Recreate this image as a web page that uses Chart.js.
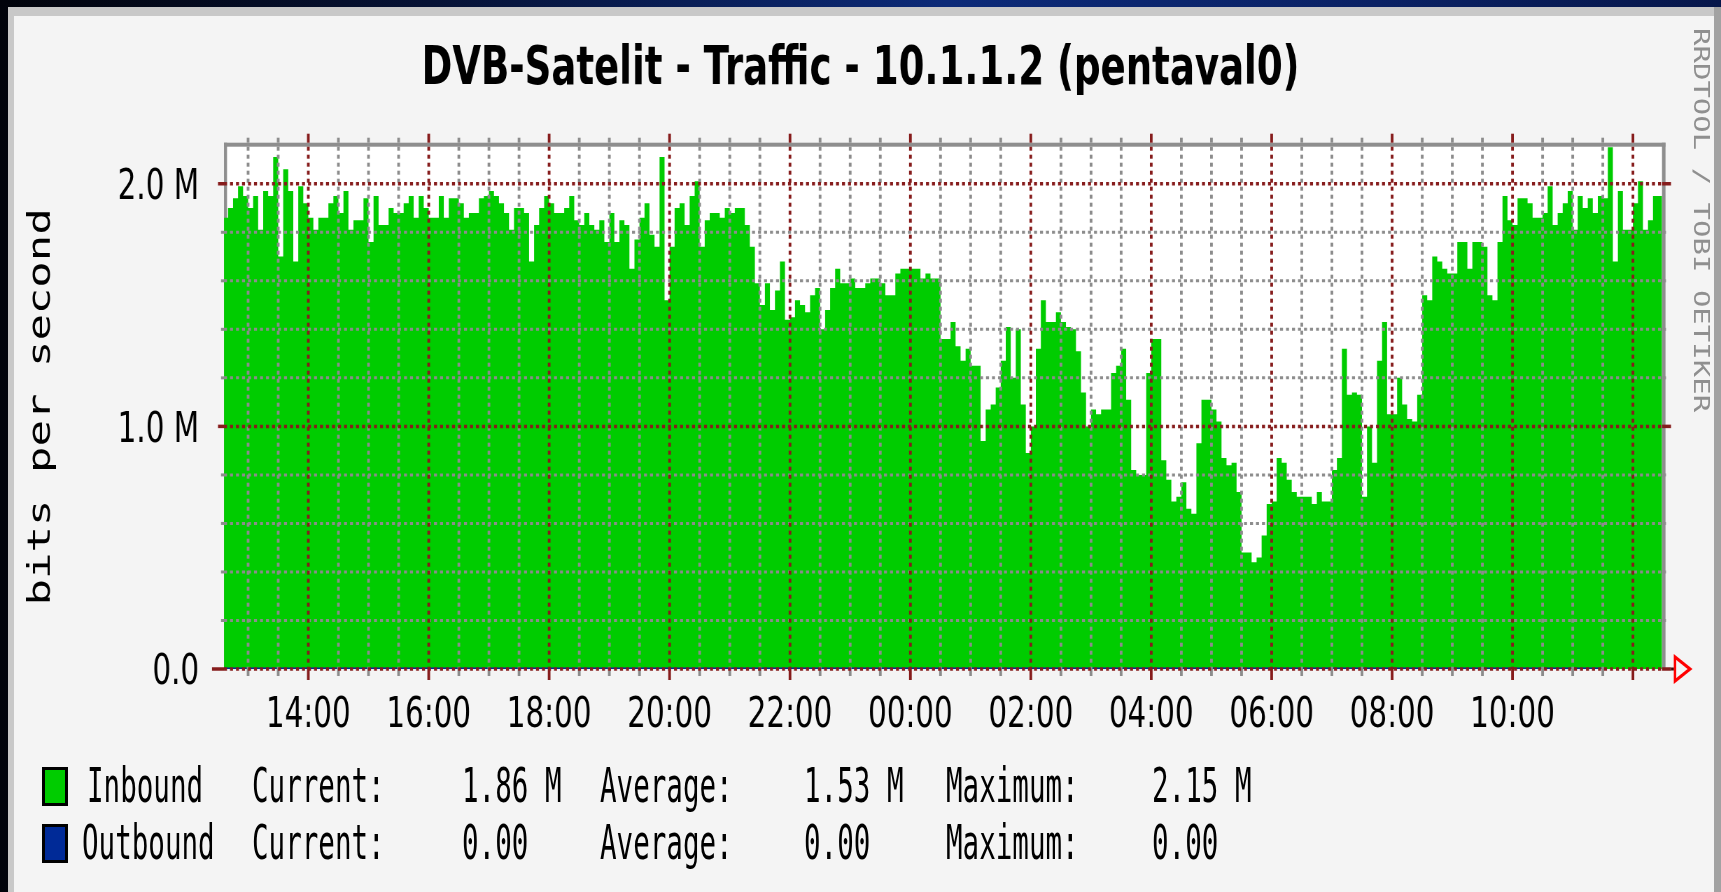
<!DOCTYPE html>
<html>
<head>
<meta charset="utf-8">
<title>DVB-Satelit - Traffic - 10.1.1.2 (pentaval0)</title>
<script src="https://cdn.jsdelivr.net/npm/chart.js@4.4.1/dist/chart.umd.min.js"></script>
<style>
  html, body { margin:0; padding:0; }
  body { width:1721px; height:892px; overflow:hidden; position:relative;
         background: linear-gradient(90deg, #01030b 0%, #061235 25%, #0c2a78 55%, #0a2164 80%, #06164a 100%); }
  #frame { position:absolute; left:8px; top:7px; width:1706px; height:885px; background:#c8c8c8; }
  #rim { position:absolute; left:1714px; top:7px; width:7px; height:885px; background:#a2a2a2; }
  #sheet { position:absolute; left:14px; top:16px; width:1700px; height:876px; background:#f4f4f4; }
  #chart { position:absolute; left:0; top:0; }
  .lg { position:absolute; font-family:"DejaVu Sans Mono", monospace; font-size:48px; line-height:48px; color:#000;
        white-space:pre; transform-origin:0 0; transform:scaleX(0.574); }
  .sw { position:absolute; left:42px; width:20px; height:33px; border:3px solid #000; }
  #credit { position:absolute; left:1690px; top:28px; font-family:"DejaVu Sans Mono", monospace; font-size:29px;
            line-height:29px; color:#8f8f8f; writing-mode:vertical-rl; white-space:pre;
            transform-origin:0 0; transform:scaleX(0.72); }
</style>
</head>
<body>
<div id="frame"></div><div id="rim"></div><div id="sheet"></div>
<canvas id="chart" width="2459" height="892" style="width:1721px;height:892px"></canvas>
<div id="credit">RRDTOOL / TOBI OETIKER</div>
<div id="legend"></div>
<script>
// ---------------- data ----------------
const titleText = 'DVB-Satelit - Traffic - 10.1.1.2 (pentaval0)';
const yAxisTitle = 'bits per second';
const startHour = 12 + 35 / 60;     // first 5-minute sample, 12:35
const stepHours = 5 / 60;           // 5-minute samples

// Inbound, Mbit/s, one value per 5 minutes (12:35 ... 12:25 next day)
const inbound = [
  1.86,1.90,1.94,1.99,1.95,1.90,1.95,1.81,1.97,1.95,2.11,1.70,
  2.06,1.97,1.68,1.99,1.92,1.86,1.81,1.86,1.86,1.92,1.95,1.88,
  1.97,1.81,1.85,1.85,1.94,1.76,1.95,1.83,1.83,1.90,1.88,1.88,
  1.92,1.95,1.86,1.95,1.90,1.86,1.86,1.95,1.86,1.94,1.94,1.92,
  1.86,1.88,1.88,1.94,1.95,1.97,1.95,1.92,1.88,1.81,1.90,1.90,
  1.88,1.68,1.83,1.90,1.95,1.92,1.88,1.88,1.90,1.95,1.85,1.83,
  1.88,1.83,1.81,1.85,1.76,1.88,1.76,1.85,1.83,1.65,1.77,1.86,
  1.92,1.79,1.74,2.11,1.52,1.74,1.90,1.92,1.83,1.95,2.01,1.74,
  1.85,1.88,1.88,1.86,1.90,1.88,1.90,1.90,1.83,1.74,1.59,1.50,
  1.59,1.48,1.56,1.68,1.44,1.45,1.52,1.50,1.47,1.54,1.57,1.40,
  1.48,1.57,1.65,1.59,1.59,1.61,1.57,1.57,1.59,1.61,1.61,1.59,
  1.54,1.54,1.63,1.65,1.65,1.65,1.65,1.61,1.63,1.61,1.61,1.36,
  1.36,1.43,1.33,1.27,1.32,1.25,1.25,0.94,1.07,1.09,1.16,1.27,
  1.41,1.20,1.40,1.09,0.89,1.00,1.32,1.52,1.43,1.43,1.47,1.43,
  1.41,1.40,1.31,1.14,1.00,1.07,1.05,1.07,1.07,1.22,1.25,1.32,
  1.11,0.82,0.80,0.80,1.22,1.36,1.36,0.86,0.78,0.69,0.71,0.77,
  0.66,0.64,0.93,1.11,1.11,1.07,1.02,0.87,0.84,0.85,0.73,0.48,
  0.48,0.44,0.46,0.55,0.68,0.69,0.87,0.85,0.78,0.73,0.71,0.71,
  0.71,0.68,0.73,0.69,0.69,0.82,0.87,1.32,1.13,1.14,1.13,0.71,
  1.00,0.85,1.27,1.43,1.05,1.05,1.20,1.09,1.03,1.02,1.13,1.54,
  1.52,1.70,1.68,1.65,1.63,1.63,1.76,1.76,1.65,1.76,1.76,1.74,
  1.54,1.52,1.76,1.95,1.85,1.83,1.94,1.94,1.92,1.86,1.86,1.88,
  1.99,1.83,1.88,1.92,1.97,1.81,1.95,1.90,1.94,1.88,1.95,1.94,
  2.15,1.68,1.97,1.81,1.81,1.92,2.01,1.81,1.85,1.95,1.95
];

// Outbound, Mbit/s (flat zero over the whole day)
const outbound = [
  0,0,0,0,0,0,0,0,0,0,0,0, 0,0,0,0,0,0,0,0,0,0,0,0,
  0,0,0,0,0,0,0,0,0,0,0,0, 0,0,0,0,0,0,0,0,0,0,0,0,
  0,0,0,0,0,0,0,0,0,0,0,0, 0,0,0,0,0,0,0,0,0,0,0,0,
  0,0,0,0,0,0,0,0,0,0,0,0, 0,0,0,0,0,0,0,0,0,0,0,0,
  0,0,0,0,0,0,0,0,0,0,0,0, 0,0,0,0,0,0,0,0,0,0,0,0,
  0,0,0,0,0,0,0,0,0,0,0,0, 0,0,0,0,0,0,0,0,0,0,0,0,
  0,0,0,0,0,0,0,0,0,0,0,0, 0,0,0,0,0,0,0,0,0,0,0,0,
  0,0,0,0,0,0,0,0,0,0,0,0, 0,0,0,0,0,0,0,0,0,0,0,0,
  0,0,0,0,0,0,0,0,0,0,0,0, 0,0,0,0,0,0,0,0,0,0,0,0,
  0,0,0,0,0,0,0,0,0,0,0,0, 0,0,0,0,0,0,0,0,0,0,0,0,
  0,0,0,0,0,0,0,0,0,0,0,0, 0,0,0,0,0,0,0,0,0,0,0,0,
  0,0,0,0,0,0,0,0,0,0,0
];

const xTickHours  = [14, 16, 18, 20, 22, 24, 26, 28, 30, 32, 34];
const xTickLabels = ['14:00','16:00','18:00','20:00','22:00','00:00','02:00','04:00','06:00','08:00','10:00'];
const yTickValues = [0, 1, 2];
const yTickLabels = ['0.0', '1.0 M', '2.0 M'];

const seriesNames  = ['Inbound', 'Outbound'];
const seriesColors = ['#00cc00', '#002a97'];
const currentText  = ['1.86 M', '0.00'];
const averageText  = ['1.53 M', '0.00'];
const maximumText  = ['2.15 M', '0.00'];

// ---------------- legend (HTML text) ----------------
(function buildLegend() {
  const host = document.getElementById('legend');
  const rowTop = [767, 824];
  const nameLeft = [87, 82];
  const capOffset = 5.6;
  seriesNames.forEach((name, r) => {
    const sw = document.createElement('div');
    sw.className = 'sw';
    sw.style.top = rowTop[r] + 'px';
    sw.style.background = seriesColors[r];
    host.appendChild(sw);
    const cells = [
      [nameLeft[r], name], [252, 'Current:'], [462, currentText[r]],
      [600, 'Average:'], [804, averageText[r]], [946, 'Maximum:'], [1152, maximumText[r]]
    ];
    cells.forEach(([left, txt]) => {
      const d = document.createElement('div');
      d.className = 'lg';
      d.style.left = left + 'px';
      d.style.top = (rowTop[r] - capOffset) + 'px';
      d.textContent = txt;
      host.appendChild(d);
    });
  });
})();

// ---------------- chart ----------------
const C = 1721 / 2459;            // canvas is drawn wide and shown compressed horizontally
const lx = d => d / C;            // display px (horizontal) -> canvas px

const toPoints = arr => {
  const pts = arr.map((v, i) => ({ x: startHour + i * stepHours, y: v }));
  pts.push({ x: startHour + arr.length * stepHours, y: arr[arr.length - 1] }); // close last step
  return pts;
};

const GRID = '#8c8c8c';
const MGRID = '#861c1c';
const FRAME = '#8e8e8e';

function seg(ctx, x0, y0, x1, y1) {
  ctx.beginPath(); ctx.moveTo(x0, y0); ctx.lineTo(x1, y1); ctx.stroke();
}

const rrdPlugin = {
  id: 'rrdPlugin',
  beforeDatasetsDraw(chart) {
    const { ctx, chartArea: a } = chart;
    ctx.save();
    ctx.fillStyle = '#ffffff';
    ctx.fillRect(a.left, a.top, a.right - a.left, a.bottom - a.top);
    ctx.fillStyle = FRAME;
    ctx.fillRect(a.left, a.top - 2, a.right - a.left + lx(3.5), 4);      // top frame
    ctx.fillRect(a.left, a.top - 2, lx(3), a.bottom - a.top + 2);       // left frame
    ctx.fillRect(a.right, a.top - 2, lx(3.5), a.bottom - a.top + 2);    // right frame
    ctx.restore();
  },
  afterDatasetsDraw(chart) {
    const { ctx, chartArea: a, scales: { x, y } } = chart;
    ctx.save();
    ctx.lineCap = 'butt';
    // minor horizontal grid (0.2 M)
    for (let k = 1; k * 0.2 < y.max; k++) {
      if (k % 5 === 0) continue;
      const py = y.getPixelForValue(k * 0.2);
      ctx.strokeStyle = GRID; ctx.lineWidth = 3;
      ctx.setLineDash([lx(3), lx(3)]);
      seg(ctx, a.left, py, a.right, py);
      ctx.setLineDash([]);
      seg(ctx, a.left - lx(3), py, a.left, py);
      seg(ctx, a.right, py, a.right + lx(4), py);
    }
    // minor vertical grid (30 min)
    for (let h = Math.ceil(x.min * 2) / 2; h <= x.max; h += 0.5) {
      if (h % 2 === 0) continue;
      const px = x.getPixelForValue(h);
      ctx.strokeStyle = GRID; ctx.lineWidth = lx(2.7);
      ctx.setLineDash([4, 4]);
      seg(ctx, px, a.top + 2, px, a.bottom);
      ctx.setLineDash([]);
      seg(ctx, px, a.top - 7, px, a.top - 2);
      seg(ctx, px, a.bottom, px, a.bottom + 7);
    }
    // major vertical grid (2 h)
    for (let h = Math.ceil(x.min / 2) * 2; h <= x.max; h += 2) {
      const px = x.getPixelForValue(h);
      ctx.strokeStyle = MGRID; ctx.lineWidth = lx(2.7);
      ctx.setLineDash([4, 4]);
      seg(ctx, px, a.top + 2, px, a.bottom);
      ctx.setLineDash([]);
      seg(ctx, px, a.top - 11, px, a.top - 2);
      seg(ctx, px, a.bottom, px, a.bottom + 11);
    }
    // major horizontal grid (1 M)
    for (let v = 0; v <= y.max; v += 1) {
      const py = y.getPixelForValue(v);
      ctx.strokeStyle = MGRID; ctx.lineWidth = 3.5;
      ctx.setLineDash([lx(3), lx(3)]);
      seg(ctx, a.left, py, a.right, py);
      ctx.setLineDash([]);
      seg(ctx, a.left - lx(v === 0 ? 12 : 6), py, a.left, py);
      seg(ctx, a.right, py, a.right + lx(9), py);
    }
    // x axis end and arrow
    const y0 = y.getPixelForValue(0);
    ctx.strokeStyle = '#3a0a0a'; ctx.lineWidth = 3;
    seg(ctx, a.right + lx(9), y0, a.right + lx(12), y0);
    ctx.strokeStyle = '#ff0000'; ctx.lineWidth = 3.5;
    ctx.beginPath();
    ctx.moveTo(a.right + lx(13), y0 - 12);
    ctx.lineTo(a.right + lx(28), y0);
    ctx.lineTo(a.right + lx(13), y0 + 12);
    ctx.closePath();
    ctx.stroke();
    ctx.restore();
  }
};

Chart.defaults.font.family = '"DejaVu Sans", sans-serif';

new Chart(document.getElementById('chart'), {
  type: 'line',
  data: {
    datasets: [
      { label: seriesNames[0], data: toPoints(inbound), stepped: 'before', fill: 'origin',
        backgroundColor: seriesColors[0], borderWidth: 0, pointRadius: 0, order: 1 },
      { label: seriesNames[1], data: toPoints(outbound), stepped: 'before', fill: false,
        borderColor: seriesColors[1], borderWidth: 3, pointRadius: 0, order: 0 }
    ]
  },
  options: {
    responsive: false,
    animation: false,
    devicePixelRatio: 1,
    events: [],
    layout: { padding: 0 },
    plugins: {
      legend: { display: false },
      tooltip: { enabled: false },
      title: {
        display: true, text: titleText, color: '#000000',
        font: { family: '"DejaVu Sans", sans-serif', size: 53, weight: 'bold', lineHeight: 1 },
        padding: { top: 43.5, bottom: 48.2 }
      }
    },
    scales: {
      x: {
        type: 'linear', min: 12.6, max: 36.483,
        grid: { display: false }, border: { display: false },
        afterBuildTicks: s => { s.ticks = xTickHours.map(v => ({ value: v })); },
        afterFit: s => { s.height = 892 - 669; },
        ticks: {
          autoSkip: false, maxRotation: 0, minRotation: 0, color: '#000000', padding: 18,
          font: { size: 42, lineHeight: 1 },
          callback: (v, i) => xTickLabels[i]
        }
      },
      y: {
        min: 0, max: 2.161,
        grid: { display: false }, border: { display: false },
        afterBuildTicks: s => { s.ticks = yTickValues.map(v => ({ value: v })); },
        afterFit: s => { s.width = lx(224); },
        ticks: {
          color: '#000000', padding: lx(19.3), labelOffset: 4.5,
          font: { size: 42, lineHeight: 1 },
          callback: (v, i) => yTickLabels[i]
        },
        title: {
          display: true, text: yAxisTitle, color: '#000000',
          font: { family: '"DejaVu Sans Mono", monospace', size: 44, lineHeight: 1 },
          padding: { top: lx(42) - 22, bottom: 0 }
        }
      },
      yRight: {
        type: 'linear', position: 'right', display: true,
        grid: { display: false }, border: { display: false },
        ticks: { display: false },
        afterFit: s => { s.width = lx(1721 - 1662); }
      }
    }
  },
  plugins: [rrdPlugin]
});
</script>
</body>
</html>
